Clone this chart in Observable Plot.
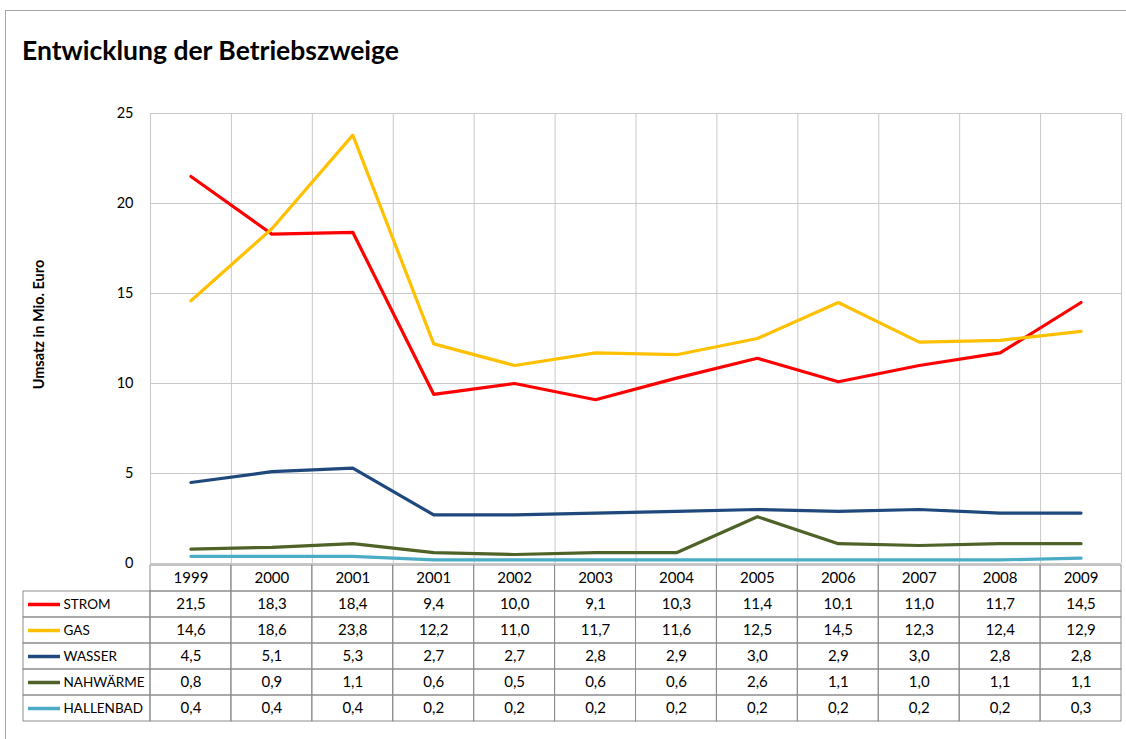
<!DOCTYPE html>
<html><head><meta charset="utf-8">
<script src="https://cdn.jsdelivr.net/npm/d3@7"></script>
<script src="https://cdn.jsdelivr.net/npm/@observablehq/plot@0.6"></script>
<style>
body{margin:0;background:#fff;font-family:Lato,sans-serif}
#wrap{position:relative;width:1126px;height:739px;overflow:hidden;background:#fff}
#frame{position:absolute;left:5px;top:10px;width:1130px;height:740px;border:1px solid #a6a6a6;box-sizing:border-box}
#title{position:absolute;left:22px;top:35px;font:bold 26.5px/1.2 Lato,sans-serif;color:#000;white-space:nowrap}
</style></head><body>
<div id="wrap"><div id="frame"></div><div id="title">Entwicklung der Betriebszweige</div></div>
<script>
const years = ["1999","2000","2001","2001","2002","2003","2004","2005","2006","2007","2008","2009"];
const series = ["STROM","GAS","WASSER","NAHWÄRME","HALLENBAD"];
const colors = ["#ff0000","#ffc000","#1f497d","#4f6228","#4bacc6"];
const strom     = [21.5,18.3,18.4,9.4,10.0,9.1,10.3,11.4,10.1,11.0,11.7,14.5];
const gas       = [14.6,18.6,23.8,12.2,11.0,11.7,11.6,12.5,14.5,12.3,12.4,12.9];
const wasser    = [4.5,5.1,5.3,2.7,2.7,2.8,2.9,3.0,2.9,3.0,2.8,2.8];
const nahwaerme = [0.8,0.9,1.1,0.6,0.5,0.6,0.6,2.6,1.1,1.0,1.1,1.1];
const hallenbad = [0.4,0.4,0.4,0.2,0.2,0.2,0.2,0.2,0.2,0.2,0.2,0.3];
const yTicks = [0,5,10,15,20,25];
const yLabel = "Umsatz in Mio. Euro";

const values = [strom, gas, wasser, nahwaerme, hallenbad];
const data = series.flatMap((s,k) => values[k].map((v,i) => ({series:s, i, v})));
const fmt = v => v.toFixed(1).replace(".", ",");

const W = 1126, plotL = 150, plotR = 1121, tableL = 23;
const n = years.length;
const colW = (plotR - plotL) / n;
const L = -(plotL - tableL) / colW;

const main = Plot.plot({
  width: W, height: 565, marginTop: 113, marginBottom: 2, marginLeft: plotL, marginRight: W - plotR,
  x: {domain: [0, n], axis: null},
  y: {domain: [0, 25], axis: null},
  color: {domain: series, range: colors},
  style: {fontFamily: "Lato, sans-serif", fontSize: "14px", background: "transparent", overflow: "visible", color: "#000"},
  marks: [
    Plot.ruleY(yTicks, {stroke: "#c8c8c8"}),
    Plot.ruleX(d3.range(0, n + 1), {stroke: "#c8c8c8"}),
    Plot.axisY({ticks: yTicks, tickSize: 0, tickPadding: 17, fontSize: 14.5, label: null}),
    Plot.text([yLabel], {frameAnchor: "left", textAnchor: "middle", rotate: -90, dx: -111, dy: -14, fontWeight: "bold", fontSize: 14.5, fill: "#000"}),
    Plot.line(data, {x: d => d.i + 0.5, y: "v", stroke: "series", z: "series", strokeWidth: 3.2, strokeLinejoin: "round"})
  ]
});
main.style.position = "absolute"; main.style.left = "0px"; main.style.top = "0px";

const rows = ["", ...series];
const header = years.map((y, i) => ({i, row: "", label: y}));
const cells = header.concat(data.map(d => ({i: d.i, row: d.series, label: fmt(d.v)})));

const tbl = Plot.plot({
  width: W, height: 164, marginTop: 2, marginBottom: 2, marginLeft: tableL, marginRight: W - plotR,
  x: {domain: [L, n], axis: null},
  y: {domain: rows, axis: null, padding: 0},
  color: {domain: series, range: colors},
  style: {fontFamily: "Lato, sans-serif", fontSize: "14px", background: "transparent", overflow: "visible", color: "#000"},
  marks: [
    Plot.barX(cells, {x1: "i", x2: d => d.i + 1, y: "row", fill: "none", stroke: "#8c8c8c"}),
    Plot.barX(series, {x1: L, x2: 0, y: d => d, fill: "none", stroke: "#8c8c8c"}),
    Plot.text(cells, {x: d => d.i + 0.5, y: "row", text: "label", fontSize: 15, fill: "#000"}),
    Plot.ruleY(series, {y: d => d, x1: L, x2: 0, insetLeft: 5, insetRight: 90, stroke: d => d, strokeWidth: 3.5}),
    Plot.text(series, {x: L, y: d => d, text: d => d, dx: 40, textAnchor: "start", fontSize: 13.5, fill: "#000"})
  ]
});
tbl.style.position = "absolute"; tbl.style.left = "0px"; tbl.style.top = "561px";

const wrap = document.getElementById("wrap");
wrap.appendChild(main);
wrap.appendChild(tbl);
</script>
</body></html>
